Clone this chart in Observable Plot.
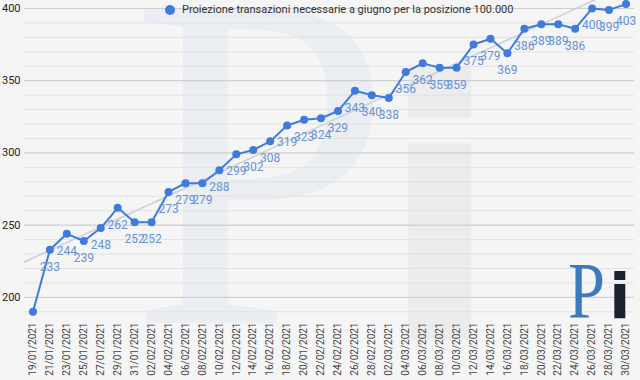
<!DOCTYPE html>
<html><head><meta charset="utf-8">
<script src="https://cdn.jsdelivr.net/npm/d3@7"></script>
<script src="https://cdn.jsdelivr.net/npm/@observablehq/plot@0.6"></script>
<style>
body{margin:0;background:#f5f5f5;font-family:Roboto,sans-serif}
#wrap{position:relative;width:640px;height:380px;overflow:hidden;background:#f5f5f5}
#wm,#chart,#overlay{position:absolute;left:0;top:0}
#legend{position:absolute;left:165px;top:3px;font:11px Roboto,sans-serif;color:#333;white-space:nowrap;display:flex;align-items:center}
#legend .sw{display:inline-block;width:10px;height:10px;border-radius:50%;background:#3e7bdc;margin-right:7px}
</style></head><body>
<div id="wrap">
<svg id="wm" width="640" height="380">
  <text x="130" y="323" font-family="Liberation Serif" font-size="480" fill="#eaedf1" textLength="262" lengthAdjust="spacingAndGlyphs">P</text>
  <text x="378" y="340" font-family="DejaVu Sans" font-weight="bold" font-size="360" fill="#ececec">i</text>
</svg>
<div id="chart"></div>
<svg id="overlay" width="640" height="380">
  <text x="568" y="318" font-family="Liberation Serif" font-size="80" fill="#3b7bbd" textLength="37" lengthAdjust="spacingAndGlyphs">P</text>
  <text x="609" y="318" font-family="DejaVu Sans" font-weight="bold" font-size="63" fill="#1a2230">i</text>
</svg>
<div id="legend"><span class="sw"></span>Proiezione transazioni necessarie a giugno per la posizione 100.000</div>
</div>
<script>
const dates = ["19/01/2021","21/01/2021","23/01/2021","25/01/2021","27/01/2021","29/01/2021","31/01/2021","02/02/2021","04/02/2021","06/02/2021","08/02/2021","10/02/2021","12/02/2021","14/02/2021","16/02/2021","18/02/2021","20/01/2021","22/02/2021","24/02/2021","26/02/2021","28/02/2021","02/03/2021","04/03/2021","06/03/2021","08/03/2021","10/03/2021","12/03/2021","14/03/2021","16/03/2021","18/03/2021","20/03/2021","22/03/2021","24/03/2021","26/03/2021","28/03/2021","30/03/2021"];
const values = [190,233,244,239,248,262,252,252,273,279,279,288,299,302,308,319,323,324,329,343,340,338,356,362,359,359,375,379,369,386,389,389,386,400,399,403];
const majorTicks = [200,250,300,350,400];
const minorTicks = d3.range(190, 401, 10);

const n = values.length;
const data = values.map((v, i) => ({i, date: dates[i], value: v}));
const xm = d3.mean(data, d => d.i), ym = d3.mean(values);
const slope = d3.sum(data, d => (d.i - xm) * (d.value - ym)) / d3.sum(data, d => (d.i - xm) ** 2);
const icpt = ym - slope * xm;
const trend = [-0.5, n - 0.5].map(x => ({i: x, value: icpt + slope * x}));

const chart = Plot.plot({
  width: 640, height: 380,
  marginLeft: 24, marginRight: 6, marginTop: 0, marginBottom: 60,
  style: {background: "transparent", fontFamily: "Roboto, sans-serif", fontSize: "11px"},
  x: {type: "linear", domain: [-0.5, n - 0.5]},
  y: {domain: [184, 405.5]},
  marks: [
    Plot.ruleY(minorTicks, {stroke: "#e2e2e2"}),
    Plot.ruleY(majorTicks, {stroke: "#cccccc"}),
    Plot.line(trend, {x: "i", y: "value", stroke: "#c8cfdd", strokeWidth: 1.5, clip: true}),
    Plot.line(data, {x: "i", y: "value", stroke: "#3e7bdc", strokeWidth: 2}),
    Plot.dot(data, {x: "i", y: "value", r: 4, fill: "#3e7bdc"}),
    Plot.text(data.slice(1), {x: "i", y: "value", text: d => String(d.value), dy: 17, fill: "#6592d8", fontSize: 12}),
    Plot.axisX({ticks: d3.range(n), tickFormat: i => dates[i], tickRotate: -90, tickSize: 0, tickPadding: 2, label: null, fill: "#444", fontSize: 10}),
    Plot.axisY({ticks: majorTicks, tickSize: 0, tickPadding: 4, label: null, fill: "#222"})
  ]
});
document.getElementById("chart").appendChild(chart);
</script>
</body></html>
